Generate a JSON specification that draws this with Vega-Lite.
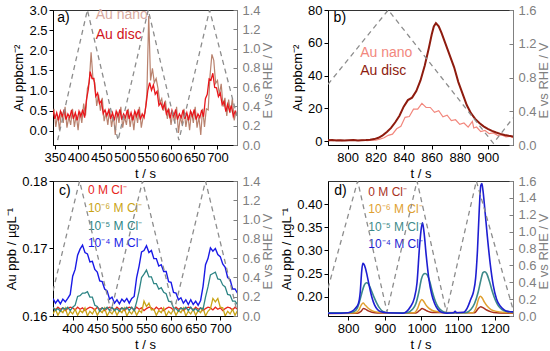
{
"$schema":"https://vega.github.io/schema/vega-lite/v6.json",
"background":"white",
"padding":{"left":5,"top":3,"right":0,"bottom":0},
"config":{"font":"Liberation Sans","view":{"stroke":"#333","strokeWidth":1},
"axis":{"labelFont":"Liberation Sans","titleFont":"Liberation Sans","labelFontSize":13,"titleFontSize":13,"titleFontWeight":"normal","labelColor":"#000","titleColor":"#000","domainColor":"#000","tickColor":"#000","tickSize":4,"labelPadding":2,"titlePadding":3,"grid":false,"labelOverlap":false,"labelFlush":false},
"text":{"font":"Liberation Sans"}},
"datasets":{
"a_disc":[{"t":346,"v":0.52},{"t":350,"v":0.30},{"t":354,"v":0.45},{"t":358,"v":0.26},{"t":362,"v":0.49},{"t":366,"v":0.36},{"t":370,"v":0.53},{"t":374,"v":0.28},{"t":378,"v":0.42},{"t":382,"v":0.33},{"t":386,"v":0.52},{"t":390,"v":0.30},{"t":394,"v":0.45},{"t":398,"v":0.26},{"t":402,"v":0.49},{"t":406,"v":0.36},{"t":410,"v":0.53},{"t":414,"v":0.33},{"t":418,"v":0.77},{"t":422,"v":1.03},{"t":426,"v":1.47},{"t":430,"v":1.30},{"t":434,"v":1.30},{"t":438,"v":0.86},{"t":442,"v":0.94},{"t":446,"v":0.68},{"t":450,"v":0.75},{"t":454,"v":0.43},{"t":458,"v":0.52},{"t":462,"v":0.38},{"t":466,"v":0.52},{"t":470,"v":0.30},{"t":474,"v":0.45},{"t":478,"v":0.26},{"t":482,"v":0.49},{"t":486,"v":0.36},{"t":490,"v":0.53},{"t":494,"v":0.28},{"t":498,"v":0.42},{"t":502,"v":0.33},{"t":506,"v":0.52},{"t":510,"v":0.30},{"t":514,"v":0.45},{"t":518,"v":0.26},{"t":522,"v":0.49},{"t":526,"v":0.36},{"t":530,"v":0.53},{"t":534,"v":0.28},{"t":538,"v":0.42},{"t":542,"v":0.33},{"t":546,"v":0.62},{"t":550,"v":1.0},{"t":554,"v":1.2},{"t":558,"v":1.01},{"t":562,"v":1.14},{"t":566,"v":0.91},{"t":570,"v":0.98},{"t":574,"v":0.63},{"t":578,"v":0.70},{"t":582,"v":0.55},{"t":586,"v":0.68},{"t":590,"v":0.42},{"t":594,"v":0.53},{"t":598,"v":0.31},{"t":602,"v":0.51},{"t":606,"v":0.36},{"t":610,"v":0.53},{"t":614,"v":0.28},{"t":618,"v":0.42},{"t":622,"v":0.33},{"t":626,"v":0.52},{"t":630,"v":0.30},{"t":634,"v":0.45},{"t":638,"v":0.26},{"t":642,"v":0.49},{"t":646,"v":0.36},{"t":650,"v":0.53},{"t":654,"v":0.28},{"t":658,"v":0.42},{"t":662,"v":0.33},{"t":666,"v":0.52},{"t":670,"v":0.35},{"t":674,"v":0.80},{"t":678,"v":0.91},{"t":682,"v":1.29},{"t":686,"v":1.26},{"t":690,"v":1.43},{"t":694,"v":1.08},{"t":698,"v":1.07},{"t":702,"v":0.85},{"t":706,"v":0.94},{"t":710,"v":0.65},{"t":714,"v":0.73},{"t":718,"v":0.48},{"t":722,"v":0.66},{"t":726,"v":0.49},{"t":730,"v":0.63},{"t":734,"v":0.36},{"t":738,"v":0.49},{"t":742,"v":0.39}],
"a_nano":[{"t":348,"v":0.55},{"t":352,"v":0.10},{"t":356,"v":0.40},{"t":360,"v":0.02},{"t":364,"v":0.48},{"t":368,"v":0.20},{"t":372,"v":0.60},{"t":376,"v":0.08},{"t":380,"v":0.35},{"t":384,"v":0.15},{"t":388,"v":0.55},{"t":392,"v":0.10},{"t":396,"v":0.40},{"t":400,"v":0.02},{"t":404,"v":0.48},{"t":408,"v":0.20},{"t":412,"v":0.68},{"t":416,"v":0.38},{"t":420,"v":1.05},{"t":424,"v":1.2},{"t":428,"v":1.95},{"t":432,"v":1.3},{"t":436,"v":1.2},{"t":440,"v":0.62},{"t":444,"v":0.9},{"t":448,"v":0.5},{"t":452,"v":0.82},{"t":456,"v":0.24},{"t":460,"v":0.45},{"t":464,"v":0.15},{"t":468,"v":0.55},{"t":472,"v":0.10},{"t":476,"v":0.40},{"t":480,"v":-0.1},{"t":484,"v":0.48},{"t":488,"v":0.20},{"t":492,"v":0.60},{"t":496,"v":0.08},{"t":500,"v":0.35},{"t":504,"v":0.15},{"t":508,"v":0.55},{"t":512,"v":0.10},{"t":516,"v":0.40},{"t":520,"v":0.02},{"t":524,"v":0.48},{"t":528,"v":0.20},{"t":532,"v":0.60},{"t":536,"v":0.08},{"t":540,"v":0.35},{"t":544,"v":0.45},{"t":548,"v":0.9},{"t":552,"v":2.85},{"t":556,"v":1.25},{"t":560,"v":1.55},{"t":564,"v":1.2},{"t":568,"v":1.3},{"t":572,"v":1.05},{"t":576,"v":0.7},{"t":580,"v":0.8},{"t":584,"v":0.5},{"t":588,"v":0.75},{"t":592,"v":0.3},{"t":596,"v":0.55},{"t":600,"v":0.15},{"t":604,"v":0.48},{"t":608,"v":0.2},{"t":612,"v":0.6},{"t":616,"v":-0.05},{"t":620,"v":0.35},{"t":624,"v":0.15},{"t":628,"v":0.55},{"t":632,"v":0.1},{"t":636,"v":0.4},{"t":640,"v":0.02},{"t":644,"v":0.48},{"t":648,"v":0.2},{"t":652,"v":0.6},{"t":656,"v":0.08},{"t":660,"v":0.35},{"t":664,"v":-0.1},{"t":668,"v":0.55},{"t":672,"v":0.1},{"t":676,"v":0.55},{"t":680,"v":0.52},{"t":684,"v":1.38},{"t":688,"v":1.9},{"t":692,"v":1.75},{"t":696,"v":1.18},{"t":700,"v":1.25},{"t":704,"v":0.9},{"t":708,"v":1.17},{"t":712,"v":0.6},{"t":716,"v":0.82},{"t":720,"v":0.37},{"t":724,"v":0.78},{"t":728,"v":0.45},{"t":732,"v":0.8},{"t":736,"v":0.26},{"t":740,"v":0.5}],
"a_E":[{"t":356,"E":0.05},{"t":420,"E":1.4},{"t":486,"E":0.05},{"t":551,"E":1.4},{"t":617,"E":0.05},{"t":683,"E":1.4},{"t":742,"E":0.3}],
"b_disc":[{"t":786,"v":0.5},{"t":789,"v":0.6},{"t":792,"v":0.4},{"t":795,"v":0.5},{"t":798,"v":0.4},{"t":801,"v":0.5},{"t":804,"v":0.6},{"t":807,"v":0.4},{"t":810,"v":0.5},{"t":813,"v":0.6},{"t":816,"v":0.8},{"t":819,"v":1.2},{"t":822,"v":2.0},{"t":825,"v":3.5},{"t":828,"v":5.5},{"t":831,"v":8.0},{"t":834,"v":11.5},{"t":837,"v":15.5},{"t":840,"v":21},{"t":843,"v":25},{"t":846,"v":26.5},{"t":849,"v":30.5},{"t":852,"v":37},{"t":855,"v":46},{"t":858,"v":57},{"t":860,"v":65},{"t":861.5,"v":70},{"t":863,"v":72},{"t":865,"v":70},{"t":867,"v":66},{"t":870,"v":59},{"t":873,"v":52},{"t":876,"v":45},{"t":879,"v":36},{"t":882,"v":29},{"t":885,"v":22},{"t":888,"v":17},{"t":891,"v":13.5},{"t":894,"v":11},{"t":897,"v":9},{"t":900,"v":7.5},{"t":903,"v":6.2},{"t":906,"v":5.2},{"t":909,"v":4.4},{"t":912,"v":3.7},{"t":915,"v":3.2},{"t":918,"v":2.8}],
"b_nano":[{"t":787,"v":0.6},{"t":790,"v":0.3},{"t":793,"v":0.7},{"t":796,"v":0.2},{"t":799,"v":0.5},{"t":802,"v":0.4},{"t":805,"v":0.7},{"t":808,"v":0.3},{"t":811,"v":0.6},{"t":814,"v":0.2},{"t":817,"v":0.6},{"t":820,"v":0.5},{"t":823,"v":1.2},{"t":826,"v":2.0},{"t":829,"v":3.5},{"t":832,"v":4.2},{"t":835,"v":7.5},{"t":838,"v":9.0},{"t":841,"v":14.5},{"t":844,"v":15.0},{"t":847,"v":19.5},{"t":850,"v":19.5},{"t":853,"v":23},{"t":856,"v":20.5},{"t":859,"v":20.5},{"t":862,"v":17.5},{"t":865,"v":18.5},{"t":868,"v":14.8},{"t":871,"v":15.8},{"t":874,"v":12.5},{"t":877,"v":13.0},{"t":880,"v":10.2},{"t":883,"v":11.0},{"t":886,"v":8.5},{"t":889,"v":12.0},{"t":890,"v":8.0},{"t":892,"v":8.6},{"t":895,"v":5.8},{"t":898,"v":6.5},{"t":901,"v":4.5},{"t":904,"v":5.0},{"t":907,"v":3.5},{"t":910,"v":3.8},{"t":913,"v":2.6},{"t":916,"v":2.9},{"t":918,"v":2.0}],
"b_E":[{"t":786,"E":0.72},{"t":829,"E":1.6},{"t":904,"E":0.02},{"t":918,"E":0.32}],
"c_red":[{"t":360,"v":0.1612},{"t":365,"v":0.1609},{"t":370,"v":0.1613},{"t":375,"v":0.1610},{"t":380,"v":0.1612},{"t":385,"v":0.1608},{"t":390,"v":0.1611},{"t":395,"v":0.1613},{"t":400,"v":0.1612},{"t":405,"v":0.1609},{"t":410,"v":0.1613},{"t":415,"v":0.1610},{"t":420,"v":0.1612},{"t":425,"v":0.1608},{"t":430,"v":0.1611},{"t":435,"v":0.1613},{"t":440,"v":0.1612},{"t":445,"v":0.1609},{"t":450,"v":0.1613},{"t":455,"v":0.1610},{"t":460,"v":0.1612},{"t":465,"v":0.1608},{"t":470,"v":0.1611},{"t":475,"v":0.1613},{"t":480,"v":0.1612},{"t":485,"v":0.1609},{"t":490,"v":0.1613},{"t":495,"v":0.1610},{"t":500,"v":0.1612},{"t":505,"v":0.1608},{"t":510,"v":0.1611},{"t":515,"v":0.1613},{"t":520,"v":0.1612},{"t":525,"v":0.1609},{"t":530,"v":0.1613},{"t":535,"v":0.1610},{"t":540,"v":0.1612},{"t":545,"v":0.1608},{"t":550,"v":0.1611},{"t":555,"v":0.1613},{"t":560,"v":0.1612},{"t":565,"v":0.1609},{"t":570,"v":0.1613},{"t":575,"v":0.1610},{"t":580,"v":0.1612},{"t":585,"v":0.1608},{"t":590,"v":0.1611},{"t":595,"v":0.1613},{"t":600,"v":0.1612},{"t":605,"v":0.1609},{"t":610,"v":0.1613},{"t":615,"v":0.1610},{"t":620,"v":0.1612},{"t":625,"v":0.1608},{"t":630,"v":0.1611},{"t":635,"v":0.1613},{"t":640,"v":0.1612},{"t":645,"v":0.1609},{"t":650,"v":0.1613},{"t":655,"v":0.1610},{"t":660,"v":0.1612},{"t":665,"v":0.1608},{"t":670,"v":0.1611},{"t":675,"v":0.1613},{"t":680,"v":0.1612},{"t":685,"v":0.1609},{"t":690,"v":0.1613},{"t":695,"v":0.1610},{"t":700,"v":0.1612},{"t":705,"v":0.1608},{"t":710,"v":0.1611},{"t":715,"v":0.1613},{"t":720,"v":0.1612},{"t":725,"v":0.1609},{"t":730,"v":0.1613},{"t":735,"v":0.1610}],
"c_gold":[{"t":360,"v":0.1603},{"t":365,"v":0.1610},{"t":370,"v":0.1601},{"t":375,"v":0.1608},{"t":380,"v":0.1605},{"t":385,"v":0.1612},{"t":390,"v":0.1600},{"t":395,"v":0.1607},{"t":400,"v":0.1603},{"t":405,"v":0.1610},{"t":410,"v":0.1601},{"t":415,"v":0.1608},{"t":420,"v":0.1605},{"t":425,"v":0.1612},{"t":430,"v":0.1600},{"t":435,"v":0.1607},{"t":440,"v":0.1603},{"t":445,"v":0.1610},{"t":450,"v":0.1601},{"t":455,"v":0.1608},{"t":460,"v":0.1605},{"t":465,"v":0.1612},{"t":470,"v":0.1600},{"t":475,"v":0.1607},{"t":480,"v":0.1603},{"t":485,"v":0.1610},{"t":490,"v":0.1601},{"t":495,"v":0.1608},{"t":500,"v":0.1605},{"t":505,"v":0.1612},{"t":510,"v":0.1600},{"t":515,"v":0.1607},{"t":520,"v":0.1603},{"t":525,"v":0.1610},{"t":530,"v":0.1601},{"t":535,"v":0.1608},{"t":540,"v":0.1605},{"t":545,"v":0.1622},{"t":550,"v":0.1614},{"t":555,"v":0.1619},{"t":560,"v":0.1609},{"t":565,"v":0.1610},{"t":570,"v":0.1601},{"t":575,"v":0.1608},{"t":580,"v":0.1605},{"t":585,"v":0.1612},{"t":590,"v":0.1600},{"t":595,"v":0.1607},{"t":600,"v":0.1603},{"t":605,"v":0.1610},{"t":610,"v":0.1601},{"t":615,"v":0.1608},{"t":620,"v":0.1605},{"t":625,"v":0.1612},{"t":630,"v":0.1600},{"t":635,"v":0.1607},{"t":640,"v":0.1603},{"t":645,"v":0.1610},{"t":650,"v":0.1601},{"t":655,"v":0.1608},{"t":660,"v":0.1605},{"t":665,"v":0.1612},{"t":670,"v":0.1600},{"t":675,"v":0.1607},{"t":680,"v":0.1611},{"t":685,"v":0.1626},{"t":690,"v":0.1621},{"t":695,"v":0.1626},{"t":700,"v":0.1613},{"t":705,"v":0.1612},{"t":710,"v":0.1600},{"t":715,"v":0.1607},{"t":720,"v":0.1603},{"t":725,"v":0.1610},{"t":730,"v":0.1601},{"t":735,"v":0.1608}],
"c_teal":[{"t":360,"v":0.1613},{"t":365,"v":0.1608},{"t":370,"v":0.1611},{"t":375,"v":0.1607},{"t":380,"v":0.1612},{"t":385,"v":0.1610},{"t":390,"v":0.1613},{"t":395,"v":0.1608},{"t":400,"v":0.1613},{"t":405,"v":0.1616},{"t":410,"v":0.1629},{"t":415,"v":0.1630},{"t":420,"v":0.1634},{"t":425,"v":0.1634},{"t":430,"v":0.1636},{"t":435,"v":0.1628},{"t":440,"v":0.1628},{"t":445,"v":0.1616},{"t":450,"v":0.1614},{"t":455,"v":0.1607},{"t":460,"v":0.1612},{"t":465,"v":0.1610},{"t":470,"v":0.1613},{"t":475,"v":0.1608},{"t":480,"v":0.1613},{"t":485,"v":0.1608},{"t":490,"v":0.1611},{"t":495,"v":0.1607},{"t":500,"v":0.1612},{"t":505,"v":0.1610},{"t":510,"v":0.1613},{"t":515,"v":0.1608},{"t":520,"v":0.1613},{"t":525,"v":0.1608},{"t":530,"v":0.1621},{"t":535,"v":0.1637},{"t":540,"v":0.1657},{"t":545,"v":0.1662},{"t":550,"v":0.1668},{"t":555,"v":0.1658},{"t":560,"v":0.1658},{"t":565,"v":0.1648},{"t":570,"v":0.1648},{"t":575,"v":0.1640},{"t":580,"v":0.1642},{"t":585,"v":0.1635},{"t":590,"v":0.1633},{"t":595,"v":0.1622},{"t":600,"v":0.1621},{"t":605,"v":0.1612},{"t":610,"v":0.1611},{"t":615,"v":0.1607},{"t":620,"v":0.1612},{"t":625,"v":0.1610},{"t":630,"v":0.1613},{"t":635,"v":0.1608},{"t":640,"v":0.1613},{"t":645,"v":0.1608},{"t":650,"v":0.1611},{"t":655,"v":0.1607},{"t":660,"v":0.1612},{"t":665,"v":0.1610},{"t":670,"v":0.1628},{"t":675,"v":0.1643},{"t":680,"v":0.1661},{"t":685,"v":0.1663},{"t":690,"v":0.1665},{"t":695,"v":0.1655},{"t":700,"v":0.1654},{"t":705,"v":0.1646},{"t":710,"v":0.1643},{"t":715,"v":0.1632},{"t":720,"v":0.1631},{"t":725,"v":0.1622},{"t":730,"v":0.1622},{"t":735,"v":0.1617}],
"c_blue":[{"t":360,"v":0.1626},{"t":365,"v":0.1619},{"t":370,"v":0.1624},{"t":375,"v":0.1618},{"t":380,"v":0.1625},{"t":385,"v":0.1621},{"t":390,"v":0.1626},{"t":395,"v":0.1632},{"t":400,"v":0.1659},{"t":405,"v":0.1669},{"t":410,"v":0.1690},{"t":415,"v":0.1699},{"t":420,"v":0.1705},{"t":425,"v":0.1694},{"t":430,"v":0.1692},{"t":435,"v":0.1680},{"t":440,"v":0.1681},{"t":445,"v":0.1669},{"t":450,"v":0.1665},{"t":455,"v":0.1652},{"t":460,"v":0.1651},{"t":465,"v":0.1640},{"t":470,"v":0.1637},{"t":475,"v":0.1625},{"t":480,"v":0.1628},{"t":485,"v":0.1619},{"t":490,"v":0.1624},{"t":495,"v":0.1618},{"t":500,"v":0.1625},{"t":505,"v":0.1621},{"t":510,"v":0.1626},{"t":515,"v":0.1619},{"t":520,"v":0.1626},{"t":525,"v":0.1629},{"t":530,"v":0.1657},{"t":535,"v":0.1674},{"t":540,"v":0.1695},{"t":545,"v":0.1697},{"t":550,"v":0.1704},{"t":555,"v":0.1694},{"t":560,"v":0.1697},{"t":565,"v":0.1685},{"t":570,"v":0.1685},{"t":575,"v":0.1674},{"t":580,"v":0.1676},{"t":585,"v":0.1666},{"t":590,"v":0.1666},{"t":595,"v":0.1651},{"t":600,"v":0.1650},{"t":605,"v":0.1635},{"t":610,"v":0.1634},{"t":615,"v":0.1624},{"t":620,"v":0.1627},{"t":625,"v":0.1619},{"t":630,"v":0.1624},{"t":635,"v":0.1617},{"t":640,"v":0.1624},{"t":645,"v":0.1617},{"t":650,"v":0.1622},{"t":655,"v":0.1616},{"t":660,"v":0.1623},{"t":665,"v":0.1644},{"t":670,"v":0.1676},{"t":675,"v":0.1685},{"t":680,"v":0.1701},{"t":685,"v":0.1696},{"t":690,"v":0.1700},{"t":695,"v":0.1691},{"t":700,"v":0.1688},{"t":705,"v":0.1677},{"t":710,"v":0.1672},{"t":715,"v":0.1657},{"t":720,"v":0.1654},{"t":725,"v":0.1640},{"t":730,"v":0.1640},{"t":735,"v":0.1634}],
"c_E":[{"t":360,"E":0.26},{"t":414,"E":1.4},{"t":478,"E":0.05},{"t":542,"E":1.4},{"t":606,"E":0.05},{"t":670,"E":1.4},{"t":734,"E":0.05}],
"d_red":[{"t":745,"v":0.1635},{"t":825,"v":0.164},{"t":835,"v":0.168},{"t":842,"v":0.174},{"t":847,"v":0.173},{"t":855,"v":0.169},{"t":865,"v":0.166},{"t":880,"v":0.1645},{"t":985,"v":0.1645},{"t":995,"v":0.17},{"t":1002,"v":0.174},{"t":1008,"v":0.172},{"t":1018,"v":0.168},{"t":1030,"v":0.1655},{"t":1145,"v":0.165},{"t":1155,"v":0.174},{"t":1162,"v":0.178},{"t":1168,"v":0.176},{"t":1178,"v":0.171},{"t":1190,"v":0.167},{"t":1205,"v":0.165},{"t":1250,"v":0.164}],
"d_gold":[{"t":745,"v":0.164},{"t":820,"v":0.165},{"t":830,"v":0.172},{"t":836,"v":0.182},{"t":841,"v":0.186},{"t":846,"v":0.182},{"t":852,"v":0.177},{"t":860,"v":0.172},{"t":870,"v":0.168},{"t":885,"v":0.166},{"t":900,"v":0.165},{"t":980,"v":0.165},{"t":990,"v":0.175},{"t":996,"v":0.188},{"t":1001,"v":0.194},{"t":1006,"v":0.19},{"t":1012,"v":0.182},{"t":1020,"v":0.175},{"t":1030,"v":0.17},{"t":1045,"v":0.167},{"t":1060,"v":0.165},{"t":1140,"v":0.165},{"t":1150,"v":0.178},{"t":1156,"v":0.195},{"t":1161,"v":0.201},{"t":1166,"v":0.197},{"t":1172,"v":0.188},{"t":1180,"v":0.179},{"t":1190,"v":0.172},{"t":1205,"v":0.168},{"t":1220,"v":0.166},{"t":1250,"v":0.165}],
"d_teal":[{"t":745,"v":0.165},{"t":800,"v":0.165},{"t":815,"v":0.167},{"t":825,"v":0.175},{"t":832,"v":0.192},{"t":838,"v":0.21},{"t":844,"v":0.225},{"t":850,"v":0.23},{"t":855,"v":0.228},{"t":862,"v":0.216},{"t":870,"v":0.2},{"t":878,"v":0.186},{"t":886,"v":0.175},{"t":895,"v":0.168},{"t":910,"v":0.165},{"t":960,"v":0.165},{"t":975,"v":0.172},{"t":985,"v":0.185},{"t":993,"v":0.21},{"t":1000,"v":0.238},{"t":1005,"v":0.248},{"t":1010,"v":0.25},{"t":1016,"v":0.247},{"t":1023,"v":0.232},{"t":1030,"v":0.21},{"t":1038,"v":0.19},{"t":1046,"v":0.177},{"t":1056,"v":0.169},{"t":1070,"v":0.165},{"t":1120,"v":0.165},{"t":1135,"v":0.172},{"t":1145,"v":0.185},{"t":1155,"v":0.21},{"t":1162,"v":0.235},{"t":1168,"v":0.252},{"t":1173,"v":0.254},{"t":1178,"v":0.25},{"t":1186,"v":0.232},{"t":1194,"v":0.21},{"t":1202,"v":0.192},{"t":1210,"v":0.18},{"t":1220,"v":0.172},{"t":1232,"v":0.168},{"t":1250,"v":0.167}],
"d_blue":[{"t":745,"v":0.164},{"t":780,"v":0.164},{"t":800,"v":0.165},{"t":810,"v":0.168},{"t":820,"v":0.175},{"t":828,"v":0.185},{"t":833,"v":0.21},{"t":837,"v":0.255},{"t":840,"v":0.272},{"t":843,"v":0.27},{"t":847,"v":0.262},{"t":852,"v":0.245},{"t":858,"v":0.222},{"t":865,"v":0.198},{"t":872,"v":0.182},{"t":880,"v":0.172},{"t":890,"v":0.167},{"t":905,"v":0.165},{"t":950,"v":0.164},{"t":960,"v":0.168},{"t":970,"v":0.178},{"t":980,"v":0.195},{"t":988,"v":0.23},{"t":995,"v":0.31},{"t":1000,"v":0.35},{"t":1003,"v":0.36},{"t":1007,"v":0.34},{"t":1013,"v":0.29},{"t":1020,"v":0.24},{"t":1028,"v":0.205},{"t":1036,"v":0.185},{"t":1045,"v":0.172},{"t":1055,"v":0.166},{"t":1070,"v":0.164},{"t":1088,"v":0.165},{"t":1092,"v":0.168},{"t":1096,"v":0.165},{"t":1115,"v":0.166},{"t":1125,"v":0.175},{"t":1135,"v":0.195},{"t":1142,"v":0.21},{"t":1148,"v":0.24},{"t":1153,"v":0.3},{"t":1158,"v":0.39},{"t":1162,"v":0.44},{"t":1165,"v":0.445},{"t":1168,"v":0.43},{"t":1173,"v":0.39},{"t":1180,"v":0.33},{"t":1188,"v":0.27},{"t":1196,"v":0.225},{"t":1205,"v":0.195},{"t":1215,"v":0.18},{"t":1225,"v":0.172},{"t":1235,"v":0.168},{"t":1250,"v":0.167}],
"d_E":[{"t":745,"E":0.33},{"t":826,"E":1.6},{"t":906,"E":0.05},{"t":988,"E":1.6},{"t":1068,"E":0.05},{"t":1150,"E":1.6},{"t":1250,"E":0.08}]
},
"columns":2,
"bounds":"flush",
"spacing":{"row":36,"column":91},
"concat":[
{"width":184,"height":135,"resolve":{"scale":{"y":"independent"}},
"layer":[
{"layer":[
{"data":{"name":"a_nano"},"mark":{"type":"line","color":"#B9826E","strokeWidth":1.2,"clip":true},
"encoding":{"x":{"field":"t","type":"quantitative","scale":{"domain":[346,742],"nice":false,"zero":false},"axis":{"values":[350,400,450,500,550,600,650,700],"format":"d","labelOverlap":false,"title":"t / s"}},
"y":{"field":"v","type":"quantitative","scale":{"domain":[-0.35,3.0],"nice":false,"zero":false},"axis":{"values":[0,0.5,1,1.5,2,2.5,3],"format":".1f","labelOverlap":false,"title":"Au ppbcm⁻²"}}}},
{"data":{"name":"a_disc"},"mark":{"type":"line","color":"#E8161B","strokeWidth":1.3,"clip":true},
"encoding":{"x":{"field":"t","type":"quantitative","scale":{"domain":[346,742],"nice":false,"zero":false},"axis":{"values":[350,400,450,500,550,600,650,700],"format":"d","labelOverlap":false,"title":"t / s"}},
"y":{"field":"v","type":"quantitative","scale":{"domain":[-0.35,3.0],"nice":false,"zero":false},"axis":{"values":[0,0.5,1,1.5,2,2.5,3],"format":".1f","labelOverlap":false,"title":"Au ppbcm⁻²"}}}},
{"data":{"values":[{}]},"mark":{"type":"text","text":"a)","align":"left","baseline":"middle","fontSize":14,"color":"#000000"},
"encoding":{"x":{"datum":355,"type":"quantitative","scale":{"domain":[346,742],"nice":false,"zero":false},"axis":{"values":[350,400,450,500,550,600,650,700],"format":"d","labelOverlap":false,"title":"t / s"}},
"y":{"datum":2.8,"type":"quantitative","scale":{"domain":[-0.35,3.0],"nice":false,"zero":false},"axis":{"values":[0,0.5,1,1.5,2,2.5,3],"format":".1f","labelOverlap":false,"title":"Au ppbcm⁻²"}}}},
{"data":{"values":[{}]},"mark":{"type":"text","text":"Au nano","align":"left","baseline":"middle","fontSize":14,"color":"#D9AAA0"},
"encoding":{"x":{"datum":438,"type":"quantitative","scale":{"domain":[346,742],"nice":false,"zero":false},"axis":{"values":[350,400,450,500,550,600,650,700],"format":"d","labelOverlap":false,"title":"t / s"}},
"y":{"datum":2.88,"type":"quantitative","scale":{"domain":[-0.35,3.0],"nice":false,"zero":false},"axis":{"values":[0,0.5,1,1.5,2,2.5,3],"format":".1f","labelOverlap":false,"title":"Au ppbcm⁻²"}}}},
{"data":{"values":[{}]},"mark":{"type":"text","text":"Au disc","align":"left","baseline":"middle","fontSize":14,"color":"#D0141A"},
"encoding":{"x":{"datum":438,"type":"quantitative","scale":{"domain":[346,742],"nice":false,"zero":false},"axis":{"values":[350,400,450,500,550,600,650,700],"format":"d","labelOverlap":false,"title":"t / s"}},
"y":{"datum":2.38,"type":"quantitative","scale":{"domain":[-0.35,3.0],"nice":false,"zero":false},"axis":{"values":[0,0.5,1,1.5,2,2.5,3],"format":".1f","labelOverlap":false,"title":"Au ppbcm⁻²"}}}}
]},
{"data":{"name":"a_E"},"mark":{"type":"line","color":"#8C8C8C","strokeDash":[5,4],"strokeWidth":1.3,"clip":true},
"encoding":{"x":{"field":"t","type":"quantitative","scale":{"domain":[346,742],"nice":false,"zero":false},"axis":{"values":[350,400,450,500,550,600,650,700],"format":"d","labelOverlap":false,"title":"t / s"}},
"y":{"field":"E","type":"quantitative","scale":{"domain":[0,1.4],"nice":false,"zero":false},"axis":{"orient":"right","values":[0,0.2,0.4,0.6,0.8,1,1.2,1.4],"format":".1f","labelOverlap":false,"title":"E vs RHE / V","titleColor":"#808080","labelColor":"#808080","tickColor":"#808080","domainColor":"#808080","tickSize":-4,"labelPadding":9,"titleX":30,"titleY":70,"titleAngle":270,"titleAlign":"center","titleBaseline":"middle"}}}}
]},
{"width":185,"height":135,"resolve":{"scale":{"y":"independent"}},
"layer":[
{"layer":[
{"data":{"name":"b_nano"},"mark":{"type":"line","color":"#F2877D","strokeWidth":1.2,"clip":true},
"encoding":{"x":{"field":"t","type":"quantitative","scale":{"domain":[786,918],"nice":false,"zero":false},"axis":{"values":[800,820,840,860,880,900],"format":"d","labelOverlap":false,"title":"t / s"}},
"y":{"field":"v","type":"quantitative","scale":{"domain":[-2.4,80],"nice":false,"zero":false},"axis":{"values":[0,20,40,60,80],"format":"d","labelOverlap":false,"title":"Au ppbcm⁻²"}}}},
{"data":{"name":"b_disc"},"mark":{"type":"line","color":"#8E1B0E","strokeWidth":2,"clip":true},
"encoding":{"x":{"field":"t","type":"quantitative","scale":{"domain":[786,918],"nice":false,"zero":false},"axis":{"values":[800,820,840,860,880,900],"format":"d","labelOverlap":false,"title":"t / s"}},
"y":{"field":"v","type":"quantitative","scale":{"domain":[-2.4,80],"nice":false,"zero":false},"axis":{"values":[0,20,40,60,80],"format":"d","labelOverlap":false,"title":"Au ppbcm⁻²"}}}},
{"data":{"values":[{}]},"mark":{"type":"text","text":"b)","align":"left","baseline":"middle","fontSize":14,"color":"#000000"},
"encoding":{"x":{"datum":790,"type":"quantitative","scale":{"domain":[786,918],"nice":false,"zero":false},"axis":{"values":[800,820,840,860,880,900],"format":"d","labelOverlap":false,"title":"t / s"}},
"y":{"datum":75,"type":"quantitative","scale":{"domain":[-2.4,80],"nice":false,"zero":false},"axis":{"values":[0,20,40,60,80],"format":"d","labelOverlap":false,"title":"Au ppbcm⁻²"}}}},
{"data":{"values":[{}]},"mark":{"type":"text","text":"Au nano","align":"left","baseline":"middle","fontSize":14,"color":"#F2877D"},
"encoding":{"x":{"datum":809,"type":"quantitative","scale":{"domain":[786,918],"nice":false,"zero":false},"axis":{"values":[800,820,840,860,880,900],"format":"d","labelOverlap":false,"title":"t / s"}},
"y":{"datum":53.7,"type":"quantitative","scale":{"domain":[-2.4,80],"nice":false,"zero":false},"axis":{"values":[0,20,40,60,80],"format":"d","labelOverlap":false,"title":"Au ppbcm⁻²"}}}},
{"data":{"values":[{}]},"mark":{"type":"text","text":"Au disc","align":"left","baseline":"middle","fontSize":14,"color":"#8E1B0E"},
"encoding":{"x":{"datum":809,"type":"quantitative","scale":{"domain":[786,918],"nice":false,"zero":false},"axis":{"values":[800,820,840,860,880,900],"format":"d","labelOverlap":false,"title":"t / s"}},
"y":{"datum":42.7,"type":"quantitative","scale":{"domain":[-2.4,80],"nice":false,"zero":false},"axis":{"values":[0,20,40,60,80],"format":"d","labelOverlap":false,"title":"Au ppbcm⁻²"}}}}
]},
{"data":{"name":"b_E"},"mark":{"type":"line","color":"#8C8C8C","strokeDash":[5,4],"strokeWidth":1.3,"clip":true},
"encoding":{"x":{"field":"t","type":"quantitative","scale":{"domain":[786,918],"nice":false,"zero":false},"axis":{"values":[800,820,840,860,880,900],"format":"d","labelOverlap":false,"title":"t / s"}},
"y":{"field":"E","type":"quantitative","scale":{"domain":[0,1.6],"nice":false,"zero":false},"axis":{"orient":"right","values":[0,0.4,0.8,1.2,1.6],"format":".1f","labelOverlap":false,"title":"E vs RHE / V","titleColor":"#808080","labelColor":"#808080","tickColor":"#808080","domainColor":"#808080","tickSize":-4,"labelPadding":9,"titleX":30,"titleY":70,"titleAngle":270,"titleAlign":"center","titleBaseline":"middle"}}}}
]},
{"width":184,"height":135,"resolve":{"scale":{"y":"independent"}},
"layer":[
{"layer":[
{"data":{"name":"c_red"},"mark":{"type":"line","color":"#E8261C","strokeWidth":1.3,"clip":true},
"encoding":{"x":{"field":"t","type":"quantitative","scale":{"domain":[360,734],"nice":false,"zero":false},"axis":{"values":[400,450,500,550,600,650,700],"format":"d","labelOverlap":false,"title":"t / s"}},
"y":{"field":"v","type":"quantitative","scale":{"domain":[0.16,0.18],"nice":false,"zero":false},"axis":{"values":[0.16,0.17,0.18],"format":".2f","labelOverlap":false,"title":"Au ppb / µgL⁻¹"}}}},
{"data":{"name":"c_gold"},"mark":{"type":"line","color":"#C9A416","strokeWidth":1.3,"clip":true},
"encoding":{"x":{"field":"t","type":"quantitative","scale":{"domain":[360,734],"nice":false,"zero":false},"axis":{"values":[400,450,500,550,600,650,700],"format":"d","labelOverlap":false,"title":"t / s"}},
"y":{"field":"v","type":"quantitative","scale":{"domain":[0.16,0.18],"nice":false,"zero":false},"axis":{"values":[0.16,0.17,0.18],"format":".2f","labelOverlap":false,"title":"Au ppb / µgL⁻¹"}}}},
{"data":{"name":"c_teal"},"mark":{"type":"line","color":"#2E8585","strokeWidth":1.3,"clip":true},
"encoding":{"x":{"field":"t","type":"quantitative","scale":{"domain":[360,734],"nice":false,"zero":false},"axis":{"values":[400,450,500,550,600,650,700],"format":"d","labelOverlap":false,"title":"t / s"}},
"y":{"field":"v","type":"quantitative","scale":{"domain":[0.16,0.18],"nice":false,"zero":false},"axis":{"values":[0.16,0.17,0.18],"format":".2f","labelOverlap":false,"title":"Au ppb / µgL⁻¹"}}}},
{"data":{"name":"c_blue"},"mark":{"type":"line","color":"#1A1AE6","strokeWidth":1.4,"clip":true},
"encoding":{"x":{"field":"t","type":"quantitative","scale":{"domain":[360,734],"nice":false,"zero":false},"axis":{"values":[400,450,500,550,600,650,700],"format":"d","labelOverlap":false,"title":"t / s"}},
"y":{"field":"v","type":"quantitative","scale":{"domain":[0.16,0.18],"nice":false,"zero":false},"axis":{"values":[0.16,0.17,0.18],"format":".2f","labelOverlap":false,"title":"Au ppb / µgL⁻¹"}}}},
{"data":{"values":[{}]},"mark":{"type":"text","text":"c)","align":"left","baseline":"middle","fontSize":14,"color":"#000000"},
"encoding":{"x":{"datum":372,"type":"quantitative","scale":{"domain":[360,734],"nice":false,"zero":false},"axis":{"values":[400,450,500,550,600,650,700],"format":"d","labelOverlap":false,"title":"t / s"}},
"y":{"datum":0.1785,"type":"quantitative","scale":{"domain":[0.16,0.18],"nice":false,"zero":false},"axis":{"values":[0.16,0.17,0.18],"format":".2f","labelOverlap":false,"title":"Au ppb / µgL⁻¹"}}}},
{"data":{"values":[{}]},"mark":{"type":"text","text":"0 M Cl⁻","align":"left","baseline":"middle","fontSize":12,"color":"#E8261C"},
"encoding":{"x":{"datum":431,"type":"quantitative","scale":{"domain":[360,734],"nice":false,"zero":false},"axis":{"values":[400,450,500,550,600,650,700],"format":"d","labelOverlap":false,"title":"t / s"}},
"y":{"datum":0.17867,"type":"quantitative","scale":{"domain":[0.16,0.18],"nice":false,"zero":false},"axis":{"values":[0.16,0.17,0.18],"format":".2f","labelOverlap":false,"title":"Au ppb / µgL⁻¹"}}}},
{"data":{"values":[{}]},"mark":{"type":"text","text":"10⁻⁶ M Cl⁻","align":"left","baseline":"middle","fontSize":12,"color":"#C9A416"},
"encoding":{"x":{"datum":431,"type":"quantitative","scale":{"domain":[360,734],"nice":false,"zero":false},"axis":{"values":[400,450,500,550,600,650,700],"format":"d","labelOverlap":false,"title":"t / s"}},
"y":{"datum":0.17604,"type":"quantitative","scale":{"domain":[0.16,0.18],"nice":false,"zero":false},"axis":{"values":[0.16,0.17,0.18],"format":".2f","labelOverlap":false,"title":"Au ppb / µgL⁻¹"}}}},
{"data":{"values":[{}]},"mark":{"type":"text","text":"10⁻⁵ M Cl⁻","align":"left","baseline":"middle","fontSize":12,"color":"#2E8585"},
"encoding":{"x":{"datum":431,"type":"quantitative","scale":{"domain":[360,734],"nice":false,"zero":false},"axis":{"values":[400,450,500,550,600,650,700],"format":"d","labelOverlap":false,"title":"t / s"}},
"y":{"datum":0.17333,"type":"quantitative","scale":{"domain":[0.16,0.18],"nice":false,"zero":false},"axis":{"values":[0.16,0.17,0.18],"format":".2f","labelOverlap":false,"title":"Au ppb / µgL⁻¹"}}}},
{"data":{"values":[{}]},"mark":{"type":"text","text":"10⁻⁴ M Cl⁻","align":"left","baseline":"middle","fontSize":12,"color":"#1A1AE6"},
"encoding":{"x":{"datum":431,"type":"quantitative","scale":{"domain":[360,734],"nice":false,"zero":false},"axis":{"values":[400,450,500,550,600,650,700],"format":"d","labelOverlap":false,"title":"t / s"}},
"y":{"datum":0.17086,"type":"quantitative","scale":{"domain":[0.16,0.18],"nice":false,"zero":false},"axis":{"values":[0.16,0.17,0.18],"format":".2f","labelOverlap":false,"title":"Au ppb / µgL⁻¹"}}}}
]},
{"data":{"name":"c_E"},"mark":{"type":"line","color":"#8C8C8C","strokeDash":[5,4],"strokeWidth":1.3,"clip":true},
"encoding":{"x":{"field":"t","type":"quantitative","scale":{"domain":[360,734],"nice":false,"zero":false},"axis":{"values":[400,450,500,550,600,650,700],"format":"d","labelOverlap":false,"title":"t / s"}},
"y":{"field":"E","type":"quantitative","scale":{"domain":[0,1.4],"nice":false,"zero":false},"axis":{"orient":"right","values":[0,0.2,0.4,0.6,0.8,1,1.2,1.4],"format":".1f","labelOverlap":false,"title":"E vs RHE / V","titleColor":"#808080","labelColor":"#808080","tickColor":"#808080","domainColor":"#808080","tickSize":-4,"labelPadding":9,"titleX":30,"titleY":70,"titleAngle":270,"titleAlign":"center","titleBaseline":"middle"}}}}
]},
{"width":185,"height":135,"resolve":{"scale":{"y":"independent"}},
"layer":[
{"layer":[
{"data":{"name":"d_red"},"mark":{"type":"line","color":"#A8321E","strokeWidth":1.5,"interpolate":"monotone","clip":true},
"encoding":{"x":{"field":"t","type":"quantitative","scale":{"domain":[745,1250],"nice":false,"zero":false},"axis":{"values":[800,900,1000,1100,1200],"format":"d","labelOverlap":false,"title":"t / s"}},
"y":{"field":"v","type":"quantitative","scale":{"domain":[0.158,0.4504],"nice":false,"zero":false},"axis":{"values":[0.2,0.25,0.3,0.35,0.4],"format":".2f","labelOverlap":false,"title":"Au ppb / µgL⁻¹"}}}},
{"data":{"name":"d_gold"},"mark":{"type":"line","color":"#E0A030","strokeWidth":1.5,"interpolate":"monotone","clip":true},
"encoding":{"x":{"field":"t","type":"quantitative","scale":{"domain":[745,1250],"nice":false,"zero":false},"axis":{"values":[800,900,1000,1100,1200],"format":"d","labelOverlap":false,"title":"t / s"}},
"y":{"field":"v","type":"quantitative","scale":{"domain":[0.158,0.4504],"nice":false,"zero":false},"axis":{"values":[0.2,0.25,0.3,0.35,0.4],"format":".2f","labelOverlap":false,"title":"Au ppb / µgL⁻¹"}}}},
{"data":{"name":"d_teal"},"mark":{"type":"line","color":"#3D8A8A","strokeWidth":1.6,"interpolate":"monotone","clip":true},
"encoding":{"x":{"field":"t","type":"quantitative","scale":{"domain":[745,1250],"nice":false,"zero":false},"axis":{"values":[800,900,1000,1100,1200],"format":"d","labelOverlap":false,"title":"t / s"}},
"y":{"field":"v","type":"quantitative","scale":{"domain":[0.158,0.4504],"nice":false,"zero":false},"axis":{"values":[0.2,0.25,0.3,0.35,0.4],"format":".2f","labelOverlap":false,"title":"Au ppb / µgL⁻¹"}}}},
{"data":{"name":"d_blue"},"mark":{"type":"line","color":"#1E1ED2","strokeWidth":1.6,"interpolate":"monotone","clip":true},
"encoding":{"x":{"field":"t","type":"quantitative","scale":{"domain":[745,1250],"nice":false,"zero":false},"axis":{"values":[800,900,1000,1100,1200],"format":"d","labelOverlap":false,"title":"t / s"}},
"y":{"field":"v","type":"quantitative","scale":{"domain":[0.158,0.4504],"nice":false,"zero":false},"axis":{"values":[0.2,0.25,0.3,0.35,0.4],"format":".2f","labelOverlap":false,"title":"Au ppb / µgL⁻¹"}}}},
{"data":{"values":[{}]},"mark":{"type":"text","text":"d)","align":"left","baseline":"middle","fontSize":14,"color":"#000000"},
"encoding":{"x":{"datum":762,"type":"quantitative","scale":{"domain":[745,1250],"nice":false,"zero":false},"axis":{"values":[800,900,1000,1100,1200],"format":"d","labelOverlap":false,"title":"t / s"}},
"y":{"datum":0.4288,"type":"quantitative","scale":{"domain":[0.158,0.4504],"nice":false,"zero":false},"axis":{"values":[0.2,0.25,0.3,0.35,0.4],"format":".2f","labelOverlap":false,"title":"Au ppb / µgL⁻¹"}}}},
{"data":{"values":[{}]},"mark":{"type":"text","text":"0 M Cl⁻","align":"left","baseline":"middle","fontSize":12,"color":"#A8321E"},
"encoding":{"x":{"datum":855,"type":"quantitative","scale":{"domain":[745,1250],"nice":false,"zero":false},"axis":{"values":[800,900,1000,1100,1200],"format":"d","labelOverlap":false,"title":"t / s"}},
"y":{"datum":0.4266,"type":"quantitative","scale":{"domain":[0.158,0.4504],"nice":false,"zero":false},"axis":{"values":[0.2,0.25,0.3,0.35,0.4],"format":".2f","labelOverlap":false,"title":"Au ppb / µgL⁻¹"}}}},
{"data":{"values":[{}]},"mark":{"type":"text","text":"10⁻⁶ M Cl⁻","align":"left","baseline":"middle","fontSize":12,"color":"#E0A030"},
"encoding":{"x":{"datum":855,"type":"quantitative","scale":{"domain":[745,1250],"nice":false,"zero":false},"axis":{"values":[800,900,1000,1100,1200],"format":"d","labelOverlap":false,"title":"t / s"}},
"y":{"datum":0.3898,"type":"quantitative","scale":{"domain":[0.158,0.4504],"nice":false,"zero":false},"axis":{"values":[0.2,0.25,0.3,0.35,0.4],"format":".2f","labelOverlap":false,"title":"Au ppb / µgL⁻¹"}}}},
{"data":{"values":[{}]},"mark":{"type":"text","text":"10⁻⁵ M Cl⁻","align":"left","baseline":"middle","fontSize":12,"color":"#3D8A8A"},
"encoding":{"x":{"datum":855,"type":"quantitative","scale":{"domain":[745,1250],"nice":false,"zero":false},"axis":{"values":[800,900,1000,1100,1200],"format":"d","labelOverlap":false,"title":"t / s"}},
"y":{"datum":0.3515,"type":"quantitative","scale":{"domain":[0.158,0.4504],"nice":false,"zero":false},"axis":{"values":[0.2,0.25,0.3,0.35,0.4],"format":".2f","labelOverlap":false,"title":"Au ppb / µgL⁻¹"}}}},
{"data":{"values":[{}]},"mark":{"type":"text","text":"10⁻⁴ M Cl⁻","align":"left","baseline":"middle","fontSize":12,"color":"#1E1ED2"},
"encoding":{"x":{"datum":855,"type":"quantitative","scale":{"domain":[745,1250],"nice":false,"zero":false},"axis":{"values":[800,900,1000,1100,1200],"format":"d","labelOverlap":false,"title":"t / s"}},
"y":{"datum":0.3141,"type":"quantitative","scale":{"domain":[0.158,0.4504],"nice":false,"zero":false},"axis":{"values":[0.2,0.25,0.3,0.35,0.4],"format":".2f","labelOverlap":false,"title":"Au ppb / µgL⁻¹"}}}}
]},
{"data":{"name":"d_E"},"mark":{"type":"line","color":"#8C8C8C","strokeDash":[5,4],"strokeWidth":1.3,"clip":true},
"encoding":{"x":{"field":"t","type":"quantitative","scale":{"domain":[745,1250],"nice":false,"zero":false},"axis":{"values":[800,900,1000,1100,1200],"format":"d","labelOverlap":false,"title":"t / s"}},
"y":{"field":"E","type":"quantitative","scale":{"domain":[0,1.6],"nice":false,"zero":false},"axis":{"orient":"right","values":[0,0.2,0.4,0.6,0.8,1,1.2,1.4,1.6],"format":".1f","labelOverlap":false,"title":"E vs RHE / V","titleColor":"#808080","labelColor":"#808080","tickColor":"#808080","domainColor":"#808080","tickSize":-4,"labelPadding":9,"titleX":30,"titleY":70,"titleAngle":270,"titleAlign":"center","titleBaseline":"middle"}}}}
]}
]
}
